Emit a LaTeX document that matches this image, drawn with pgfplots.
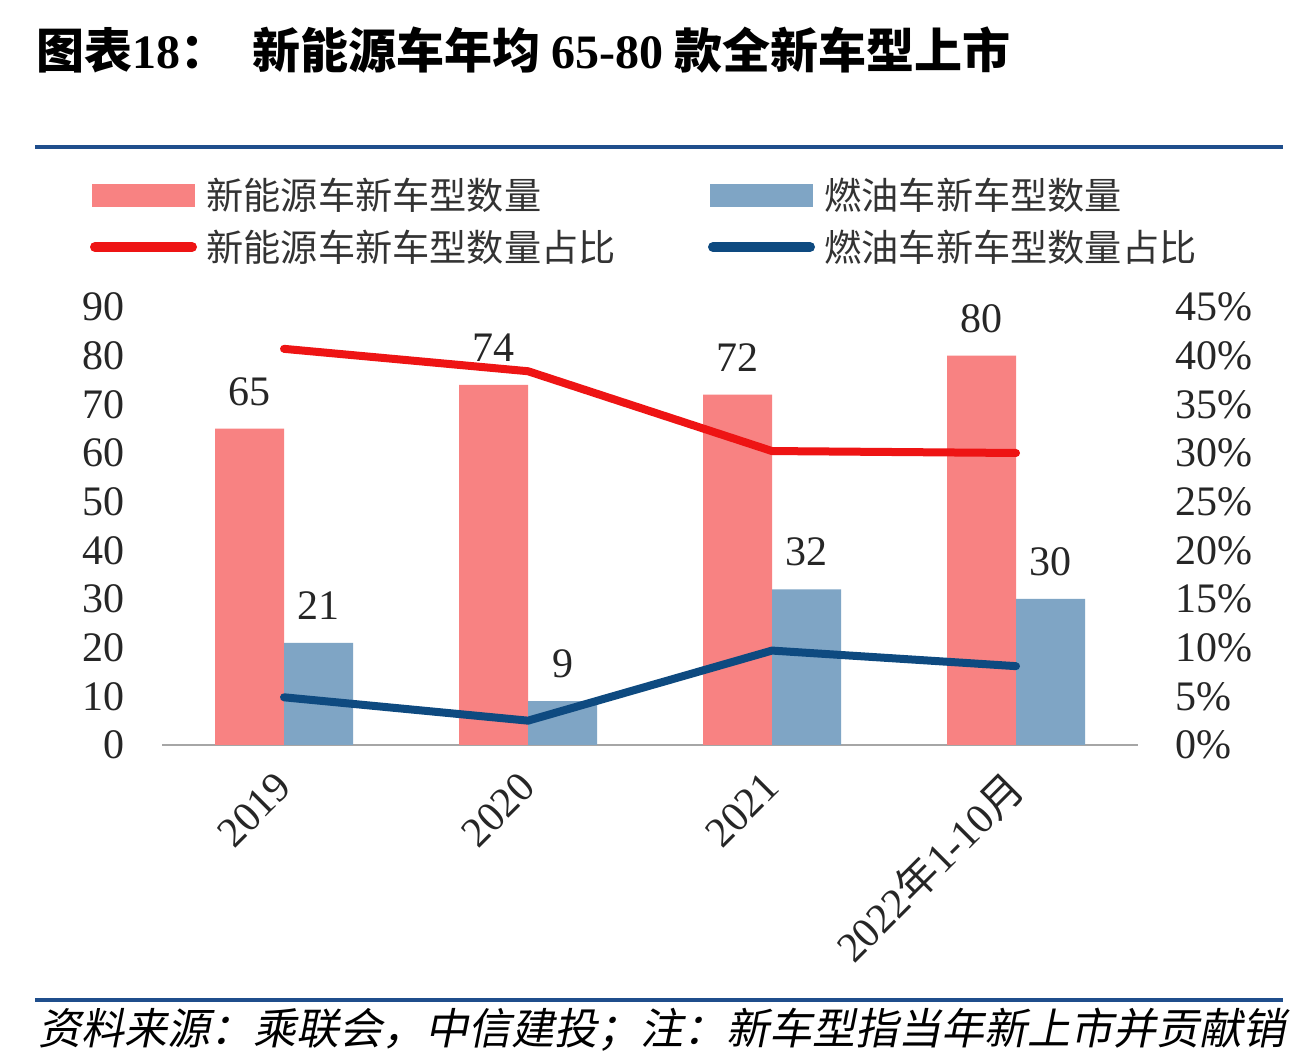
\documentclass[border=0pt]{standalone}
\usepackage{pgfplots}
\pgfplotsset{compat=1.18}
\usepackage{fontspec}
\setmainfont{Liberation Serif}
\newfontfamily\cjk{Noto Sans CJK SC}
\newfontfamily\cjki{Noto Sans CJK SC}[FakeSlant=0.2]
\definecolor{nevbar}{HTML}{F88282}
\definecolor{icebar}{HTML}{7FA5C5}
\definecolor{nevline}{HTML}{EE1414}
\definecolor{iceline}{HTML}{0E4A80}
\definecolor{rulec}{HTML}{1F4E8C}
\definecolor{legtxt}{HTML}{333333}
\newcommand{\numfont}{\fontsize{21}{21}\selectfont}
\newcommand{\legfont}{\fontsize{18.6}{18.6}\selectfont\cjk\color{legtxt}}
\begin{document}
\begin{tikzpicture}
\begin{scope}[x=0.5pt,y=0.5pt]
\fill[white] (0,0) rectangle (1310,1064);
% title
\node[anchor=west,inner sep=0] at (36,1014) {\fontsize{24}{24}\selectfont\cjk\bfseries 图表{\rmfamily\bfseries 18}：};
\node[anchor=west,inner sep=0] at (252,1014) {\fontsize{24}{24}\selectfont\cjk\bfseries 新能源车年均 {\rmfamily\bfseries 65-80} 款全新车型上市};
\draw[rulec, line width=2pt] (35,917) -- (1283,917);
\draw[rulec, line width=2pt] (35,64) -- (1283,64);
% legend
\fill[nevbar] (92,857) rectangle (195,880);
\node[anchor=west,inner sep=0] at (206,869) {\legfont 新能源车新车型数量};
\fill[icebar] (710,857) rectangle (813,880);
\node[anchor=west,inner sep=0] at (824,869) {\legfont 燃油车新车型数量};
\draw[nevline, line width=5pt, line cap=round] (95,817) -- (192,817);
\node[anchor=west,inner sep=0] at (206,817) {\legfont 新能源车新车型数量占比};
\draw[iceline, line width=5pt, line cap=round] (713,817) -- (810,817);
\node[anchor=west,inner sep=0] at (824,817) {\legfont 燃油车新车型数量占比};
% footer
\node[anchor=west,inner sep=0] at (38,34) {\fontsize{21.5}{21.5}\selectfont\cjki 资料来源：乘联会，中信建投；注：新车型指当年新上市并贡献销};
\end{scope}
% bars
\begin{axis}[
  at={(81pt,159.5pt)}, anchor=south west, scale only axis,
  width=488pt, height=219pt,
  xmin=-0.5, xmax=3.5, ymin=0, ymax=90,
  ytick={0,10,...,90},
  xtick={0,1,2,3},
  xticklabels={2019,2020,2021,{2022{\cjk 年}1-10{\cjk 月}}},
  axis x line*=bottom, axis y line*=left,
  x axis line style={draw=black!35, line width=1pt, -},
  y axis line style={draw=none},
  major tick length=0,
  /pgf/number format/assume math mode=true,
  ticklabel style={font=\numfont, text=black!85},
  yticklabel style={xshift=-15pt},
  xticklabel style={rotate=45, anchor=east, yshift=-12.5pt, xshift=-9pt},
  clip=false,
]
\addplot[ybar, bar width=34.5pt, bar shift=-17.25pt, fill=nevbar, draw=none,
  nodes near coords, every node near coord/.append style={font=\numfont, text=black!85, yshift=8pt, xshift=-17.25pt}]
  coordinates {(0,65) (1,74) (2,72) (3,80)};
\addplot[ybar, bar width=34.5pt, bar shift=17.25pt, fill=icebar, draw=none,
  nodes near coords, every node near coord/.append style={font=\numfont, text=black!85, yshift=8pt, xshift=17.25pt}]
  coordinates {(0,21) (1,9) (2,32) (3,30)};
\end{axis}
% lines
\begin{axis}[
  at={(81pt,159.5pt)}, anchor=south west, scale only axis,
  width=488pt, height=219pt,
  xmin=-0.5, xmax=3.5, ymin=0, ymax=45,
  ytick={0,5,...,45},
  yticklabel={\pgfmathprintnumber{\tick}\%},
  hide x axis,
  axis y line*=right,
  y axis line style={draw=none},
  major tick length=0,
  /pgf/number format/assume math mode=true,
  ticklabel style={font=\numfont, text=black!85},
  yticklabel style={xshift=15pt},
  clip=false,
]
\addplot[nevline, line width=4pt, line cap=round, line join=round] coordinates {(0,40.7) (1,38.4) (2,30.2) (3,30.0)};
\addplot[iceline, line width=4pt, line cap=round, line join=round] coordinates {(0,4.9) (1,2.5) (2,9.7) (3,8.1)};
\end{axis}
\end{tikzpicture}
\end{document}
